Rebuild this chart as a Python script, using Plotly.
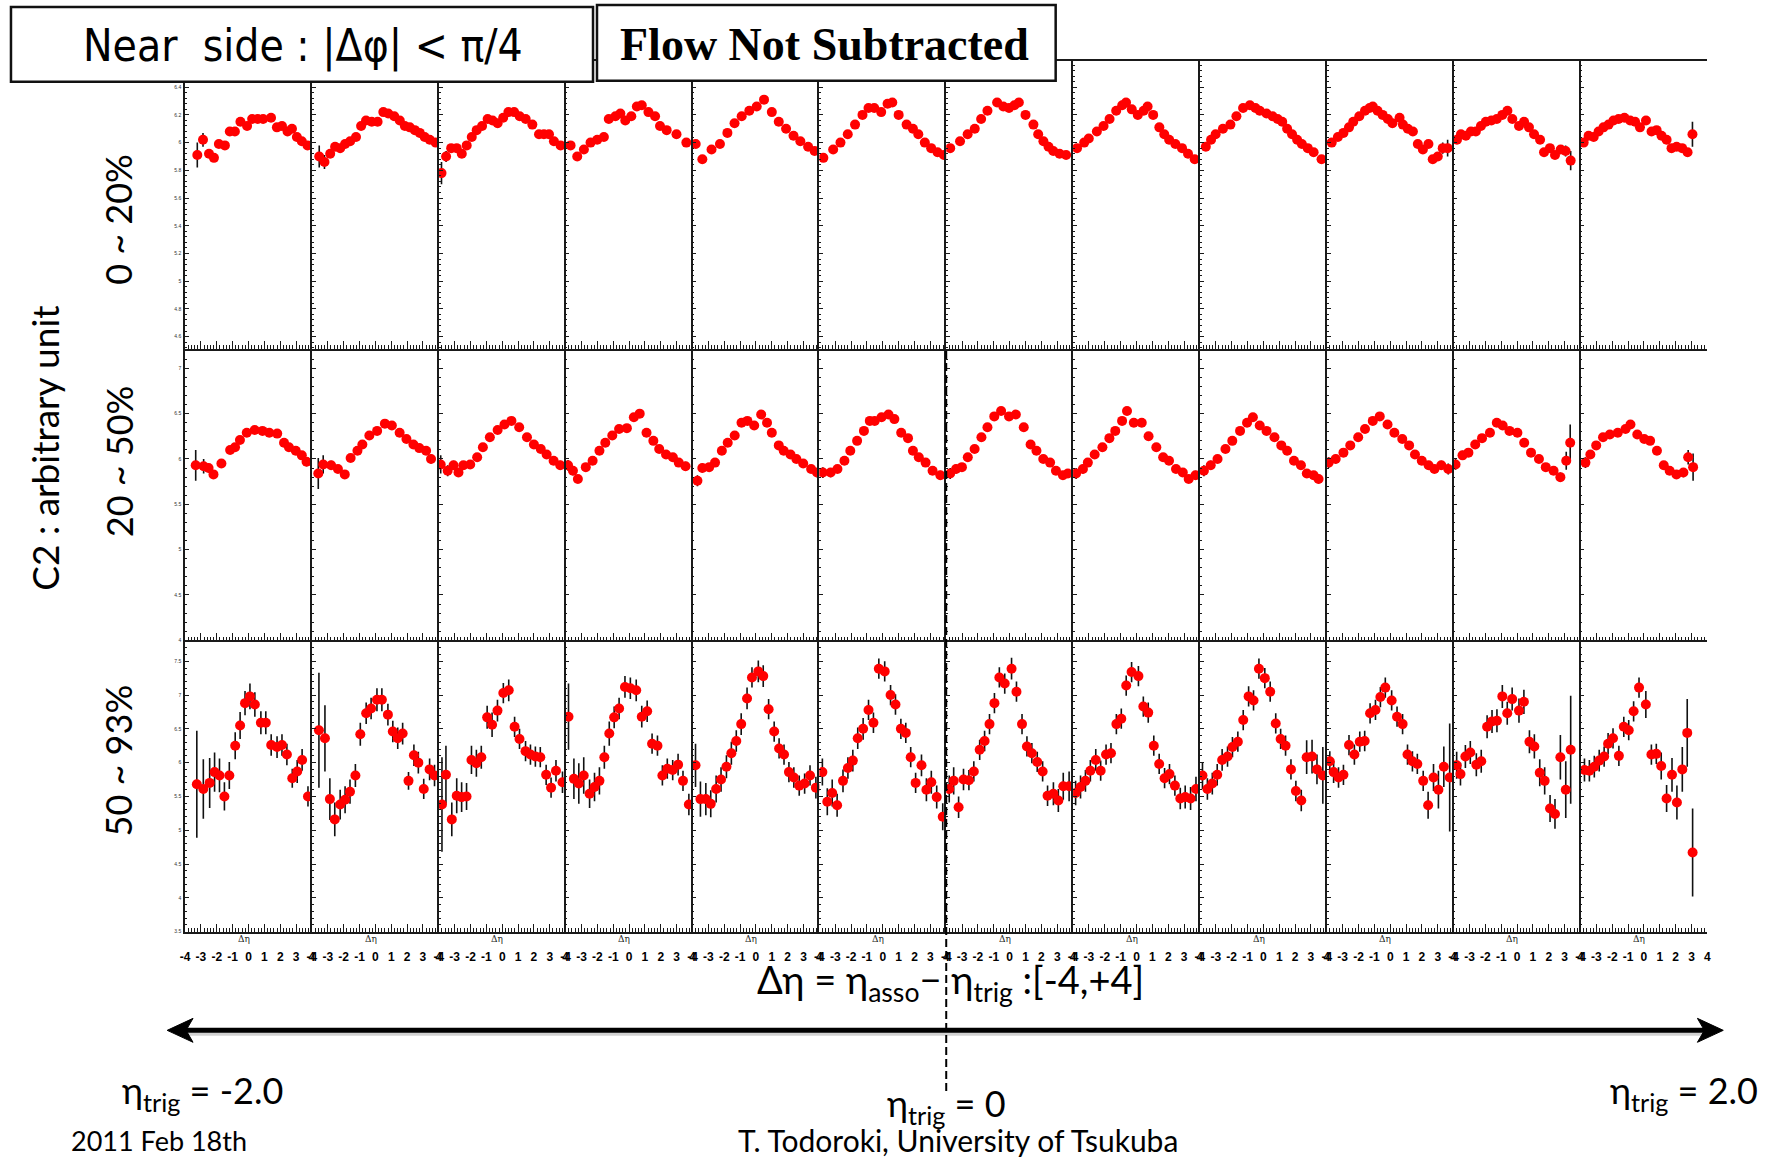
import plotly.graph_objects as go

W, H = 1783, 1159

# ---------------- data ----------------
# Δη bin centres, C2 values and errors for the 12 η_trig slices (η_trig = -2.0 ... 2.0)

# centrality 0 ~ 20%
deta_0_20 = [
    [-3.23, -2.87, -2.49, -2.18, -1.87, -1.49, -1.18, -0.86, -0.51, -0.09, 0.23, 0.58, 0.92, 1.42, 1.79, 2.11, 2.46, 2.74, 3.05, 3.36, 3.72],
    [-3.54, -3.21, -2.85, -2.54, -2.22, -1.91, -1.59, -1.22, -0.90, -0.59, -0.23, 0.14, 0.50, 0.81, 1.19, 1.54, 1.86, 2.17, 2.49, 2.80, 3.11, 3.43, 3.80],
    [-3.83, -3.54, -3.22, -2.87, -2.55, -2.24, -1.92, -1.61, -1.27, -0.92, -0.61, -0.29, 0.06, 0.39, 0.75, 1.10, 1.48, 1.90, 2.32, 2.63, 2.95, 3.26, 3.68],
    [-3.69, -3.27, -2.85, -2.43, -2.01, -1.59, -1.28, -0.86, -0.55, -0.24, 0.14, 0.49, 0.80, 1.22, 1.64, 1.95, 2.37, 2.99, 3.61],
    [-3.80, -3.38, -2.80, -2.27, -1.80, -1.35, -0.90, -0.42, 0.05, 0.51, 1.00, 1.44, 1.90, 2.37, 2.80, 3.29, 3.70],
    [-3.75, -3.13, -2.67, -2.21, -1.75, -1.28, -0.90, -0.54, -0.10, 0.30, 0.60, 1.00, 1.50, 1.90, 2.24, 2.65, 3.05, 3.45, 3.85],
    [-3.75, -3.13, -2.65, -2.20, -1.80, -1.40, -0.79, -0.40, -0.04, 0.30, 0.58, 1.00, 1.50, 1.80, 2.13, 2.45, 2.75, 3.15, 3.56],
    [-3.75, -3.30, -3.01, -2.50, -2.08, -1.70, -1.28, -0.90, -0.66, -0.30, 0.08, 0.45, 0.70, 1.05, 1.44, 1.75, 2.06, 2.45, 2.87, 3.25, 3.67],
    [-3.63, -3.30, -3.01, -2.55, -2.08, -1.70, -1.28, -0.85, -0.50, -0.23, 0.20, 0.58, 0.90, 1.19, 1.50, 1.81, 2.13, 2.43, 2.80, 3.17, 3.67],
    [-3.69, -3.30, -2.95, -2.60, -2.33, -1.95, -1.59, -1.30, -1.10, -0.80, -0.48, -0.15, 0.14, 0.59, 0.80, 1.11, 1.43, 1.74, 2.06, 2.41, 2.68, 3.00, 3.31, 3.62],
    [-3.79, -3.54, -3.23, -2.91, -2.60, -2.28, -1.97, -1.62, -1.28, -0.93, -0.61, -0.30, 0.12, 0.44, 0.75, 1.07, 1.45, 1.70, 2.07, 2.39, 2.75, 3.06, 3.38],
    [-3.80, -3.49, -3.17, -2.86, -2.55, -2.23, -1.92, -1.60, -1.23, -0.87, -0.56, -0.25, 0.13, 0.48, 0.80, 1.11, 1.43, 1.74, 2.06, 2.41, 2.75, 3.06],
]
c2_0_20 = [
    [5.91, 6.02, 5.92, 5.89, 5.99, 5.98, 6.08, 6.08, 6.15, 6.12, 6.17, 6.17, 6.17, 6.18, 6.11, 6.12, 6.08, 6.10, 6.04, 6.01, 5.98],
    [5.90, 5.86, 5.92, 5.97, 5.96, 5.99, 6.01, 6.04, 6.12, 6.16, 6.15, 6.15, 6.22, 6.21, 6.19, 6.16, 6.12, 6.11, 6.09, 6.07, 6.04, 6.02, 6.00],
    [5.78, 5.90, 5.96, 5.96, 5.92, 5.98, 6.04, 6.09, 6.12, 6.17, 6.16, 6.14, 6.18, 6.22, 6.22, 6.19, 6.17, 6.13, 6.06, 6.06, 6.06, 6.01, 5.98],
    [5.98, 5.90, 5.95, 6.00, 6.02, 6.04, 6.17, 6.19, 6.21, 6.16, 6.19, 6.26, 6.27, 6.22, 6.19, 6.12, 6.09, 6.06, 6.00],
    [5.99, 5.88, 5.95, 5.99, 6.07, 6.14, 6.19, 6.23, 6.26, 6.31, 6.22, 6.15, 6.10, 6.05, 6.01, 5.97, 5.94],
    [5.89, 5.95, 6.00, 6.06, 6.13, 6.20, 6.25, 6.25, 6.22, 6.28, 6.29, 6.20, 6.13, 6.10, 6.06, 6.00, 5.96, 5.93, 5.91],
    [5.96, 6.01, 6.06, 6.10, 6.17, 6.23, 6.29, 6.26, 6.25, 6.27, 6.29, 6.20, 6.13, 6.06, 6.01, 5.97, 5.94, 5.92, 5.91],
    [5.96, 6.00, 6.03, 6.08, 6.12, 6.17, 6.23, 6.27, 6.29, 6.24, 6.20, 6.23, 6.26, 6.20, 6.11, 6.06, 6.02, 5.99, 5.96, 5.92, 5.88],
    [5.97, 6.02, 6.06, 6.10, 6.13, 6.19, 6.25, 6.27, 6.25, 6.23, 6.21, 6.19, 6.17, 6.15, 6.10, 6.06, 6.02, 5.99, 5.96, 5.93, 5.88],
    [6.00, 6.04, 6.07, 6.11, 6.15, 6.19, 6.23, 6.25, 6.26, 6.23, 6.20, 6.17, 6.14, 6.18, 6.13, 6.10, 6.08, 5.99, 5.95, 5.99, 5.88, 5.90, 5.96, 5.96],
    [6.02, 6.06, 6.05, 6.08, 6.08, 6.12, 6.15, 6.16, 6.17, 6.20, 6.23, 6.17, 6.12, 6.15, 6.11, 6.06, 6.02, 5.93, 5.96, 5.91, 5.95, 5.94, 5.87],
    [6.00, 6.05, 6.04, 6.08, 6.11, 6.13, 6.16, 6.17, 6.18, 6.16, 6.15, 6.11, 6.16, 6.08, 6.09, 6.05, 6.02, 5.96, 5.97, 5.96, 5.93, 6.06],
]
err_0_20 = [
    [0.09, 0.05, 0.03, 0.02, 0.02, 0.015, 0.015, 0.012, 0.012, 0.012, 0.012, 0.012, 0.012, 0.012, 0.012, 0.012, 0.012, 0.012, 0.015, 0.015, 0.02],
    [0.08, 0.05, 0.03, 0.02, 0.02, 0.015, 0.015, 0.012, 0.012, 0.012, 0.012, 0.012, 0.012, 0.012, 0.012, 0.012, 0.012, 0.012, 0.012, 0.015, 0.015, 0.02, 0.02],
    [0.08, 0.04, 0.03, 0.02, 0.02, 0.015, 0.015, 0.012, 0.012, 0.012, 0.012, 0.012, 0.012, 0.012, 0.012, 0.012, 0.012, 0.012, 0.012, 0.015, 0.015, 0.02, 0.02],
    [0.03, 0.02, 0.02, 0.015, 0.015, 0.012, 0.012, 0.012, 0.012, 0.012, 0.012, 0.012, 0.012, 0.012, 0.012, 0.012, 0.015, 0.015, 0.02],
    [0.03, 0.02, 0.02, 0.015, 0.012, 0.012, 0.012, 0.012, 0.012, 0.012, 0.012, 0.012, 0.012, 0.012, 0.015, 0.015, 0.02],
    [0.03, 0.02, 0.02, 0.015, 0.012, 0.012, 0.012, 0.012, 0.012, 0.012, 0.012, 0.012, 0.012, 0.012, 0.012, 0.015, 0.015, 0.02, 0.02],
    [0.03, 0.02, 0.02, 0.015, 0.012, 0.012, 0.012, 0.012, 0.012, 0.012, 0.012, 0.012, 0.012, 0.012, 0.012, 0.015, 0.015, 0.02, 0.02],
    [0.03, 0.02, 0.02, 0.015, 0.012, 0.012, 0.012, 0.012, 0.012, 0.012, 0.012, 0.012, 0.012, 0.012, 0.012, 0.012, 0.015, 0.015, 0.02, 0.02, 0.03],
    [0.03, 0.02, 0.02, 0.015, 0.012, 0.012, 0.012, 0.012, 0.012, 0.012, 0.012, 0.012, 0.012, 0.012, 0.012, 0.012, 0.015, 0.015, 0.02, 0.02, 0.03],
    [0.03, 0.02, 0.02, 0.015, 0.012, 0.012, 0.012, 0.012, 0.012, 0.012, 0.012, 0.012, 0.012, 0.012, 0.012, 0.012, 0.012, 0.015, 0.015, 0.02, 0.02, 0.03, 0.04, 0.06],
    [0.03, 0.02, 0.02, 0.015, 0.012, 0.012, 0.012, 0.012, 0.012, 0.012, 0.012, 0.012, 0.012, 0.012, 0.012, 0.012, 0.015, 0.015, 0.02, 0.02, 0.03, 0.04, 0.07],
    [0.03, 0.02, 0.02, 0.015, 0.012, 0.012, 0.012, 0.012, 0.012, 0.012, 0.012, 0.012, 0.012, 0.012, 0.012, 0.012, 0.015, 0.015, 0.02, 0.02, 0.03, 0.09],
]

# centrality 20 ~ 50%
deta_20_50 = [
    [-3.33, -2.83, -2.52, -2.21, -1.71, -1.16, -0.85, -0.54, -0.11, 0.39, 0.88, 1.31, 1.81, 2.24, 2.55, 2.98, 3.36, 3.66],
    [-3.60, -3.29, -2.79, -2.36, -1.93, -1.56, -1.13, -0.82, -0.38, 0.11, 0.60, 1.04, 1.53, 1.96, 2.40, 2.77, 3.20, 3.51],
    [-3.88, -3.44, -3.07, -2.76, -2.45, -2.02, -1.58, -1.22, -0.78, -0.29, 0.14, 0.58, 1.07, 1.56, 2.00, 2.43, 2.80, 3.24, 3.66],
    [-3.85, -3.54, -3.23, -2.73, -2.30, -1.87, -1.50, -1.06, -0.63, -0.14, 0.30, 0.67, 1.10, 1.53, 1.90, 2.33, 2.76, 3.13, 3.56],
    [-3.69, -3.38, -2.95, -2.58, -2.15, -1.78, -1.34, -0.91, -0.54, -0.11, 0.33, 0.70, 1.00, 1.44, 1.75, 2.18, 2.55, 2.98, 3.48, 3.85],
    [-3.78, -3.29, -2.86, -2.42, -2.05, -1.62, -1.19, -0.82, -0.51, -0.08, 0.36, 0.73, 1.16, 1.59, 1.90, 2.27, 2.70, 3.14, 3.63],
    [-3.75, -3.38, -3.01, -2.64, -2.21, -1.78, -1.40, -0.97, -0.54, -0.04, 0.39, 0.89, 1.32, 1.69, 2.12, 2.55, 2.92, 3.36, 3.67],
    [-3.81, -3.38, -3.07, -2.64, -2.15, -1.71, -1.34, -0.91, -0.60, -0.17, 0.33, 0.76, 1.25, 1.68, 2.05, 2.49, 2.92, 3.29, 3.72],
    [-3.75, -3.32, -2.89, -2.39, -1.96, -1.47, -1.03, -0.66, -0.23, 0.20, 0.70, 1.13, 1.50, 1.93, 2.37, 2.74, 3.17, 3.48],
    [-3.88, -3.44, -2.95, -2.52, -2.02, -1.59, -1.10, -0.66, -0.17, 0.26, 0.76, 1.19, 1.56, 1.99, 2.42, 2.79, 3.22, 3.66],
    [-3.88, -3.44, -3.07, -2.64, -2.21, -1.71, -1.28, -0.91, -0.48, 0.02, 0.45, 0.88, 1.38, 1.81, 2.30, 2.73, 3.10, 3.35],
    [-3.69, -3.38, -3.01, -2.58, -2.15, -1.65, -1.16, -0.85, -0.42, 0.02, 0.39, 0.82, 1.25, 1.62, 2.05, 2.49, 2.79, 3.10],
]
c2_20_50 = [
    [5.93, 5.92, 5.90, 5.83, 5.95, 6.10, 6.13, 6.21, 6.29, 6.32, 6.31, 6.29, 6.28, 6.18, 6.13, 6.09, 6.04, 5.97],
    [5.84, 5.94, 5.93, 5.89, 5.83, 6.01, 6.09, 6.16, 6.26, 6.31, 6.39, 6.37, 6.29, 6.22, 6.16, 6.12, 6.09, 6.00],
    [5.94, 5.87, 5.93, 5.85, 5.93, 5.94, 6.02, 6.13, 6.24, 6.32, 6.38, 6.42, 6.35, 6.24, 6.16, 6.11, 6.05, 5.98, 5.93],
    [5.93, 5.87, 5.78, 5.91, 5.98, 6.09, 6.18, 6.26, 6.33, 6.34, 6.46, 6.50, 6.29, 6.20, 6.11, 6.05, 6.02, 5.96, 5.92],
    [5.76, 5.90, 5.91, 5.96, 6.09, 6.18, 6.26, 6.40, 6.42, 6.37, 6.49, 6.40, 6.29, 6.15, 6.09, 6.05, 6.00, 5.95, 5.89, 5.85],
    [5.85, 5.85, 5.89, 5.98, 6.09, 6.20, 6.31, 6.42, 6.42, 6.46, 6.49, 6.44, 6.29, 6.23, 6.09, 6.02, 5.96, 5.87, 5.82],
    [5.84, 5.89, 5.91, 6.02, 6.11, 6.24, 6.35, 6.47, 6.53, 6.47, 6.49, 6.35, 6.16, 6.09, 6.00, 5.96, 5.87, 5.82, 5.84],
    [5.84, 5.89, 5.96, 6.05, 6.13, 6.23, 6.31, 6.42, 6.53, 6.40, 6.40, 6.25, 6.13, 6.02, 5.98, 5.89, 5.85, 5.78, 5.82],
    [5.87, 5.93, 6.00, 6.11, 6.20, 6.31, 6.40, 6.46, 6.37, 6.31, 6.24, 6.15, 6.09, 5.98, 5.93, 5.84, 5.82, 5.78],
    [5.96, 6.00, 6.07, 6.15, 6.24, 6.33, 6.42, 6.47, 6.38, 6.29, 6.22, 6.15, 6.05, 5.98, 5.93, 5.89, 5.93, 5.89],
    [5.94, 6.04, 6.07, 6.16, 6.23, 6.29, 6.40, 6.37, 6.31, 6.29, 6.18, 6.07, 6.00, 5.91, 5.87, 5.80, 5.98, 6.18],
    [5.96, 6.05, 6.15, 6.24, 6.27, 6.29, 6.33, 6.38, 6.27, 6.22, 6.20, 6.09, 5.93, 5.87, 5.83, 5.85, 6.02, 5.91],
]
err_20_50 = [
    [0.17, 0.08, 0.05, 0.04, 0.03, 0.03, 0.03, 0.03, 0.03, 0.03, 0.03, 0.03, 0.03, 0.03, 0.03, 0.03, 0.04, 0.05],
    [0.17, 0.10, 0.05, 0.04, 0.03, 0.03, 0.03, 0.03, 0.03, 0.03, 0.03, 0.03, 0.03, 0.03, 0.03, 0.03, 0.04, 0.05],
    [0.10, 0.06, 0.05, 0.04, 0.03, 0.03, 0.03, 0.03, 0.03, 0.03, 0.03, 0.03, 0.03, 0.03, 0.03, 0.03, 0.03, 0.04, 0.05],
    [0.06, 0.05, 0.04, 0.04, 0.03, 0.03, 0.03, 0.03, 0.03, 0.03, 0.03, 0.03, 0.03, 0.03, 0.03, 0.03, 0.03, 0.04, 0.05],
    [0.06, 0.05, 0.04, 0.04, 0.03, 0.03, 0.03, 0.03, 0.03, 0.03, 0.03, 0.03, 0.03, 0.03, 0.03, 0.03, 0.03, 0.04, 0.04, 0.05],
    [0.06, 0.05, 0.04, 0.04, 0.03, 0.03, 0.03, 0.03, 0.03, 0.03, 0.03, 0.03, 0.03, 0.03, 0.03, 0.03, 0.03, 0.04, 0.05],
    [0.06, 0.05, 0.04, 0.04, 0.03, 0.03, 0.03, 0.03, 0.03, 0.03, 0.03, 0.03, 0.03, 0.03, 0.03, 0.03, 0.03, 0.04, 0.05],
    [0.06, 0.05, 0.04, 0.04, 0.03, 0.03, 0.03, 0.03, 0.03, 0.03, 0.03, 0.03, 0.03, 0.03, 0.03, 0.03, 0.03, 0.04, 0.05],
    [0.06, 0.05, 0.04, 0.04, 0.03, 0.03, 0.03, 0.03, 0.03, 0.03, 0.03, 0.03, 0.03, 0.03, 0.03, 0.03, 0.04, 0.05],
    [0.06, 0.05, 0.04, 0.04, 0.03, 0.03, 0.03, 0.03, 0.03, 0.03, 0.03, 0.03, 0.03, 0.03, 0.03, 0.04, 0.05, 0.06],
    [0.06, 0.05, 0.04, 0.04, 0.03, 0.03, 0.03, 0.03, 0.03, 0.03, 0.03, 0.03, 0.03, 0.03, 0.04, 0.05, 0.10, 0.20],
    [0.06, 0.05, 0.04, 0.04, 0.03, 0.03, 0.03, 0.03, 0.03, 0.03, 0.03, 0.03, 0.03, 0.04, 0.04, 0.05, 0.08, 0.15],
]

# centrality 50 ~ 93%
deta_50_93 = [
    [-3.26, -2.85, -2.45, -2.14, -1.83, -1.52, -1.21, -0.84, -0.53, -0.22, 0.09, 0.40, 0.78, 1.09, 1.43, 1.80, 2.11, 2.42, 2.76, 3.07, 3.38, 3.75],
    [-3.56, -3.18, -2.87, -2.56, -2.22, -1.91, -1.60, -1.26, -0.95, -0.58, -0.27, 0.10, 0.41, 0.79, 1.10, 1.41, 1.72, 2.09, 2.43, 2.71, 3.05, 3.42, 3.73],
    [-3.80, -3.55, -3.18, -2.87, -2.56, -2.25, -1.94, -1.63, -1.32, -0.95, -0.64, -0.30, 0.07, 0.41, 0.78, 1.09, 1.47, 1.78, 2.09, 2.40, 2.77, 3.08, 3.39, 3.80],
    [-3.82, -3.48, -3.17, -2.86, -2.49, -2.18, -1.87, -1.56, -1.25, -0.94, -0.63, -0.26, 0.08, 0.45, 0.80, 1.14, 1.45, 1.79, 2.10, 2.41, 2.75, 3.09, 3.40, 3.77],
    [-3.81, -3.50, -3.16, -2.85, -2.51, -2.20, -1.86, -1.55, -1.24, -0.93, -0.56, -0.25, 0.15, 0.46, 0.80, 1.15, 1.46, 1.77, 2.08, 2.39, 2.73, 3.07, 3.41, 3.78],
    [-3.81, -3.50, -3.19, -2.88, -2.51, -2.20, -1.89, -1.58, -1.24, -0.90, -0.59, -0.25, 0.12, 0.49, 0.80, 1.14, 1.45, 1.76, 2.07, 2.44, 2.75, 3.06, 3.40, 3.78],
    [-3.81, -3.53, -3.22, -2.91, -2.57, -2.26, -1.89, -1.58, -1.27, -0.96, -0.65, -0.31, 0.12, 0.43, 0.78, 1.09, 1.40, 1.74, 2.08, 2.39, 2.76, 3.07, 3.38, 3.75],
    [-3.84, -3.53, -3.22, -2.91, -2.57, -2.26, -1.92, -1.61, -1.27, -0.96, -0.65, -0.31, 0.12, 0.43, 0.74, 1.09, 1.43, 1.77, 2.08, 2.42, 2.76, 3.07, 3.41, 3.75],
    [-3.84, -3.53, -3.22, -2.91, -2.60, -2.26, -1.95, -1.61, -1.27, -0.93, -0.62, -0.28, 0.09, 0.43, 0.78, 1.09, 1.40, 1.74, 2.05, 2.39, 2.73, 3.07, 3.38, 3.75],
    [-3.81, -3.57, -3.26, -2.95, -2.60, -2.26, -1.92, -1.61, -1.27, -0.93, -0.62, -0.31, 0.09, 0.43, 0.78, 1.09, 1.40, 1.71, 2.08, 2.39, 2.73, 3.04, 3.38, 3.75],
    [-3.81, -3.57, -3.26, -2.95, -2.57, -2.26, -1.89, -1.58, -1.27, -0.93, -0.62, -0.31, 0.12, 0.43, 0.78, 1.09, 1.43, 1.74, 2.08, 2.39, 2.73, 3.07, 3.38],
    [-3.75, -3.44, -3.13, -2.82, -2.51, -2.26, -1.95, -1.58, -1.27, -0.96, -0.65, -0.31, 0.12, 0.47, 0.78, 1.09, 1.43, 1.77, 2.08, 2.42, 2.73, 3.07],
]
c2_50_93 = [
    [5.68, 5.61, 5.70, 5.86, 5.81, 5.50, 5.81, 6.25, 6.55, 6.88, 6.98, 6.86, 6.59, 6.59, 6.26, 6.23, 6.26, 6.12, 5.77, 5.87, 6.04, 5.50],
    [6.48, 6.36, 5.46, 5.16, 5.38, 5.45, 5.57, 5.81, 6.42, 6.73, 6.80, 6.93, 6.93, 6.71, 6.46, 6.36, 6.43, 5.73, 6.11, 6.00, 5.61, 5.90, 5.81],
    [5.38, 5.82, 5.16, 5.51, 5.49, 5.50, 6.04, 5.99, 6.08, 6.67, 6.56, 6.77, 7.03, 7.07, 6.53, 6.35, 6.17, 6.12, 6.09, 6.08, 5.82, 5.63, 5.88, 5.71],
    [6.68, 5.76, 5.69, 5.81, 5.54, 5.64, 5.73, 6.08, 6.43, 6.67, 6.80, 7.12, 7.10, 7.07, 6.68, 6.76, 6.28, 6.25, 5.81, 5.91, 5.89, 5.97, 5.73, 5.38],
    [5.96, 5.46, 5.46, 5.39, 5.61, 5.75, 5.94, 6.14, 6.32, 6.57, 6.95, 7.26, 7.35, 7.28, 6.79, 6.46, 6.21, 6.12, 5.86, 5.78, 5.66, 5.69, 5.81, 5.63],
    [5.86, 5.42, 5.55, 5.37, 5.73, 5.92, 6.03, 6.36, 6.50, 6.78, 6.59, 7.39, 7.35, 7.00, 6.86, 6.50, 6.44, 6.08, 5.70, 5.96, 5.60, 5.71, 5.49, 5.20],
    [5.61, 5.73, 5.34, 5.75, 5.74, 5.87, 6.19, 6.32, 6.57, 6.88, 7.26, 7.17, 7.39, 7.05, 6.57, 6.24, 6.14, 6.01, 5.87, 5.51, 5.54, 5.44, 5.65, 5.65],
    [5.55, 5.64, 5.73, 5.88, 6.04, 5.88, 6.12, 6.14, 6.57, 6.65, 7.14, 7.34, 7.28, 6.83, 6.74, 6.25, 5.98, 5.77, 5.83, 5.66, 5.47, 5.49, 5.47, 5.61],
    [5.81, 5.61, 5.69, 5.82, 6.04, 6.09, 6.23, 6.31, 6.63, 6.98, 6.92, 7.39, 7.25, 7.05, 6.58, 6.35, 6.25, 5.90, 5.58, 5.44, 6.08, 6.09, 5.90, 5.81],
    [6.02, 5.86, 5.78, 5.82, 6.26, 6.12, 6.31, 6.32, 6.73, 6.78, 6.97, 7.11, 6.92, 6.68, 6.57, 6.12, 6.02, 5.98, 5.73, 5.37, 5.78, 5.60, 5.94, 5.78],
    [5.96, 5.83, 6.09, 6.15, 5.97, 6.02, 6.53, 6.61, 6.62, 6.98, 6.73, 6.94, 6.77, 6.90, 6.31, 6.24, 5.85, 5.73, 5.32, 5.24, 6.08, 5.60, 6.19],
    [5.89, 5.88, 5.94, 6.03, 6.09, 6.28, 6.36, 6.10, 6.53, 6.48, 6.76, 7.11, 6.86, 6.12, 6.13, 5.95, 5.47, 5.82, 5.41, 5.90, 6.44, 4.67],
]
err_50_93 = [
    [0.79, 0.44, 0.37, 0.29, 0.25, 0.21, 0.20, 0.20, 0.20, 0.18, 0.19, 0.18, 0.17, 0.17, 0.16, 0.16, 0.16, 0.16, 0.14, 0.17, 0.16, 0.15],
    [0.85, 0.49, 0.31, 0.25, 0.22, 0.20, 0.18, 0.17, 0.17, 0.16, 0.16, 0.17, 0.17, 0.16, 0.16, 0.16, 0.16, 0.13, 0.16, 0.16, 0.15, 0.16, 0.16],
    [0.70, 0.43, 0.25, 0.26, 0.22, 0.20, 0.21, 0.20, 0.17, 0.17, 0.18, 0.16, 0.15, 0.16, 0.15, 0.15, 0.15, 0.15, 0.15, 0.15, 0.15, 0.15, 0.16, 0.16],
    [0.49, 0.30, 0.30, 0.27, 0.21, 0.21, 0.20, 0.17, 0.18, 0.16, 0.16, 0.16, 0.16, 0.16, 0.16, 0.16, 0.15, 0.15, 0.15, 0.15, 0.15, 0.16, 0.15, 0.16],
    [0.32, 0.26, 0.24, 0.20, 0.20, 0.18, 0.17, 0.17, 0.16, 0.16, 0.16, 0.15, 0.16, 0.16, 0.15, 0.15, 0.15, 0.15, 0.15, 0.15, 0.15, 0.15, 0.15, 0.16],
    [0.20, 0.20, 0.20, 0.17, 0.17, 0.16, 0.16, 0.16, 0.16, 0.15, 0.15, 0.15, 0.15, 0.15, 0.15, 0.15, 0.15, 0.15, 0.15, 0.16, 0.17, 0.17, 0.17, 0.20],
    [0.20, 0.20, 0.16, 0.16, 0.15, 0.15, 0.15, 0.15, 0.15, 0.15, 0.15, 0.15, 0.16, 0.15, 0.15, 0.15, 0.15, 0.15, 0.15, 0.15, 0.17, 0.17, 0.20, 0.22],
    [0.18, 0.17, 0.16, 0.16, 0.16, 0.15, 0.15, 0.15, 0.15, 0.15, 0.15, 0.15, 0.15, 0.15, 0.15, 0.15, 0.15, 0.15, 0.15, 0.15, 0.16, 0.17, 0.17, 0.18],
    [0.20, 0.16, 0.16, 0.16, 0.16, 0.15, 0.15, 0.15, 0.15, 0.15, 0.15, 0.15, 0.15, 0.15, 0.15, 0.15, 0.15, 0.15, 0.15, 0.16, 0.25, 0.25, 0.22, 0.42],
    [0.15, 0.16, 0.15, 0.15, 0.15, 0.15, 0.15, 0.15, 0.15, 0.15, 0.15, 0.15, 0.15, 0.15, 0.15, 0.15, 0.15, 0.15, 0.15, 0.20, 0.20, 0.28, 0.30, 0.80],
    [0.20, 0.17, 0.17, 0.17, 0.17, 0.17, 0.17, 0.17, 0.17, 0.17, 0.17, 0.17, 0.18, 0.18, 0.17, 0.18, 0.20, 0.20, 0.20, 0.22, 0.33, 0.42, 0.80],
    [0.17, 0.16, 0.16, 0.16, 0.15, 0.16, 0.15, 0.15, 0.15, 0.15, 0.15, 0.15, 0.20, 0.15, 0.15, 0.20, 0.20, 0.25, 0.25, 0.33, 0.50, 0.65],
]

row_labels = ["0 ~ 20%", "20 ~ 50%", "50 ~ 93%"]
deta_tick_values = [-4, -3, -2, -1, 0, 1, 2, 3, 4]
deta_tick_text = ["-4", "-3", "-2", "-1", "0", "1", "2", "3", "4"]

rows = [
    (deta_0_20, c2_0_20, err_0_20),
    (deta_20_50, c2_20_50, err_20_50),
    (deta_50_93, c2_50_93, err_50_93),
]

# ---------------- layout geometry (pixels) ----------------
N_COL = 12
GRID_LEFT = 181.0
PANEL_W = 127.5
ROW_PX = [(61, 350), (352, 642), (644, 934)]          # top, bottom of each row
Y_SCALES = [
    dict(range=[4.51, 6.59], tick0=4.6, dtick=0.2, minor=0.04),
    dict(range=[4.0, 7.19], tick0=4.0, dtick=0.5, minor=0.1),
    dict(range=[3.5, 7.78], tick0=3.5, dtick=0.5, minor=0.1),
]


def fx(px):
    return px / W


def fy(py):
    return 1 - py / H


def text_at(px, py, text, size, family="Lato, Open Sans, sans-serif", angle=0):
    """Centred paper-space label placed by pixel position."""
    return dict(xref="paper", yref="paper", x=fx(px), y=fy(py), text=text,
                xanchor="center", yanchor="middle", textangle=angle,
                showarrow=False, font=dict(family=family, size=size, color="black"))


fig = go.Figure()
layout = dict(
    width=W, height=H, margin=dict(l=0, r=0, t=0, b=0),
    paper_bgcolor="white", plot_bgcolor="white", showlegend=False,
)
annotations = []
shapes = []

for r, (detas, c2s, errs) in enumerate(rows):
    top, bottom = ROW_PX[r]
    ys = Y_SCALES[r]
    for c in range(N_COL):
        idx = r * N_COL + c + 1
        xa = "xaxis" if idx == 1 else f"xaxis{idx}"
        ya = "yaxis" if idx == 1 else f"yaxis{idx}"
        xr = "x" if idx == 1 else f"x{idx}"
        yr = "y" if idx == 1 else f"y{idx}"
        assert len(detas[c]) == len(c2s[c]) == len(errs[c]), (r, c)

        x0 = GRID_LEFT + PANEL_W * c
        layout[xa] = dict(
            domain=[fx(x0), fx(x0 + PANEL_W)], anchor=yr,
            range=[-4, 4], showgrid=False, zeroline=False,
            showline=True, linecolor="#1a1a1a", linewidth=1.6, mirror=True,
            ticks="inside", tickvals=deta_tick_values, ticktext=deta_tick_text,
            ticklen=8, tickwidth=1, tickcolor="#1a1a1a",
            minor=dict(dtick=0.2, tick0=-4, ticks="inside", ticklen=4,
                       tickwidth=1, tickcolor="#1a1a1a"),
            showticklabels=(r == 2), ticklabelstandoff=13,
            tickfont=dict(family="Liberation Sans, Arial, sans-serif", size=12,
                          color="black", weight="bold"),
        )
        layout[ya] = dict(
            domain=[fy(bottom), fy(top)], anchor=xr,
            range=ys["range"], showgrid=False, zeroline=False,
            showline=True, linecolor="#1a1a1a", linewidth=1.6, mirror=False,
            ticks="inside", tick0=ys["tick0"], dtick=ys["dtick"], ticklen=4,
            tickwidth=1, tickcolor="#1a1a1a",
            minor=dict(dtick=ys["minor"], ticks="inside", ticklen=2,
                       tickwidth=1, tickcolor="#1a1a1a"),
            showticklabels=(c == 0), ticklabelstandoff=1,
            tickfont=dict(family="Liberation Sans, Arial, sans-serif", size=5,
                          color="#333"),
        )
        fig.add_trace(go.Scatter(
            x=detas[c], y=c2s[c], mode="markers",
            marker=dict(color="#ff0000", size=10, line=dict(width=0)),
            error_y=dict(type="data", array=errs[c], color="#111",
                         thickness=1.6, width=0),
            xaxis=xr, yaxis=yr, hoverinfo="skip", showlegend=False,
        ))
        if r == 2:
            annotations.append(dict(
                xref=xr, yref="paper", x=-0.3, y=fy(941), text="Δη",
                xanchor="center", yanchor="middle", showarrow=False,
                font=dict(family="DejaVu Serif, serif", size=9, color="#222"),
            ))

# ---------------- header boxes ----------------
shapes.append(dict(type="rect", xref="paper", yref="paper",
                   x0=fx(6), x1=fx(591), y0=fy(82), y1=fy(7),
                   line=dict(color="#111", width=2.5), fillcolor="white",
                   layer="above"))
shapes.append(dict(type="rect", xref="paper", yref="paper",
                   x0=fx(595), x1=fx(1056), y0=fy(81), y1=fy(5),
                   line=dict(color="#111", width=2.5), fillcolor="white",
                   layer="above"))
annotations.append(text_at(
    300, 46, "Near  side : |Δφ| < π/4", 44,
    family="Liberation Sans Narrow, DejaVu Sans Condensed, Arial Narrow, sans-serif"))
annotations.append(text_at(
    824, 45, "<b>Flow Not Subtracted</b>", 46,
    family="Liberation Serif, Times New Roman, serif"))

# ---------------- row and axis titles ----------------
row_label_y = [220, 462, 762]
for lab, yc in zip(row_labels, row_label_y):
    annotations.append(text_at(114, yc, lab, 36, angle=-90))
annotations.append(text_at(40, 449, "C2 : arbitrary unit", 37, angle=-90))
annotations.append(text_at(
    950, 985, "Δη = η<sub>asso</sub>− η<sub>trig</sub> :[-4,+4]", 38))

# ---------------- η_trig direction arrow ----------------
ARROW_Y = 1033
shapes.append(dict(type="line", xref="paper", yref="paper",
                   x0=fx(180), x1=fx(1712), y0=fy(ARROW_Y + 3), y1=fy(ARROW_Y + 3),
                   line=dict(color="rgba(0,0,0,0.18)", width=5), layer="above"))
shapes.append(dict(type="line", xref="paper", yref="paper",
                   x0=fx(175), x1=fx(1716), y0=fy(ARROW_Y), y1=fy(ARROW_Y),
                   line=dict(color="black", width=5), layer="above"))


def head_path(tip_x, direction):
    back = tip_x + 26 * direction
    notch = tip_x + 19 * direction
    pts = [(tip_x, ARROW_Y), (back, ARROW_Y - 12), (notch, ARROW_Y), (back, ARROW_Y + 12)]
    return "M " + " L ".join(f"{fx(px):.5f},{fy(py):.5f}" for px, py in pts) + " Z"


for tip, d in [(163, 1), (1727, -1)]:
    shapes.append(dict(type="path", xref="paper", yref="paper",
                       path=head_path(tip, d), fillcolor="black",
                       line=dict(color="black", width=1), layer="above"))

# dashed marker at η_trig = 0
shapes.append(dict(type="line", xref="paper", yref="paper",
                   x0=fx(946), x1=fx(946), y0=fy(352), y1=fy(1097),
                   line=dict(color="black", width=2, dash="8px,4px"),
                   layer="above"))

# ---------------- η_trig labels and footer ----------------
for text, xc, yc in [("η<sub>trig</sub> = -2.0", 199, 1095),
                     ("η<sub>trig</sub> = 0", 946, 1108),
                     ("η<sub>trig</sub> = 2.0", 1688, 1095)]:
    annotations.append(text_at(xc, yc, text, 36))
annotations.append(text_at(155, 1143, "2011 Feb 18th", 27))
annotations.append(text_at(958, 1143, "T. Todoroki, University of Tsukuba", 30))

layout["annotations"] = annotations
layout["shapes"] = shapes
fig.update_layout(**layout)
fig.write_html("out.html")
